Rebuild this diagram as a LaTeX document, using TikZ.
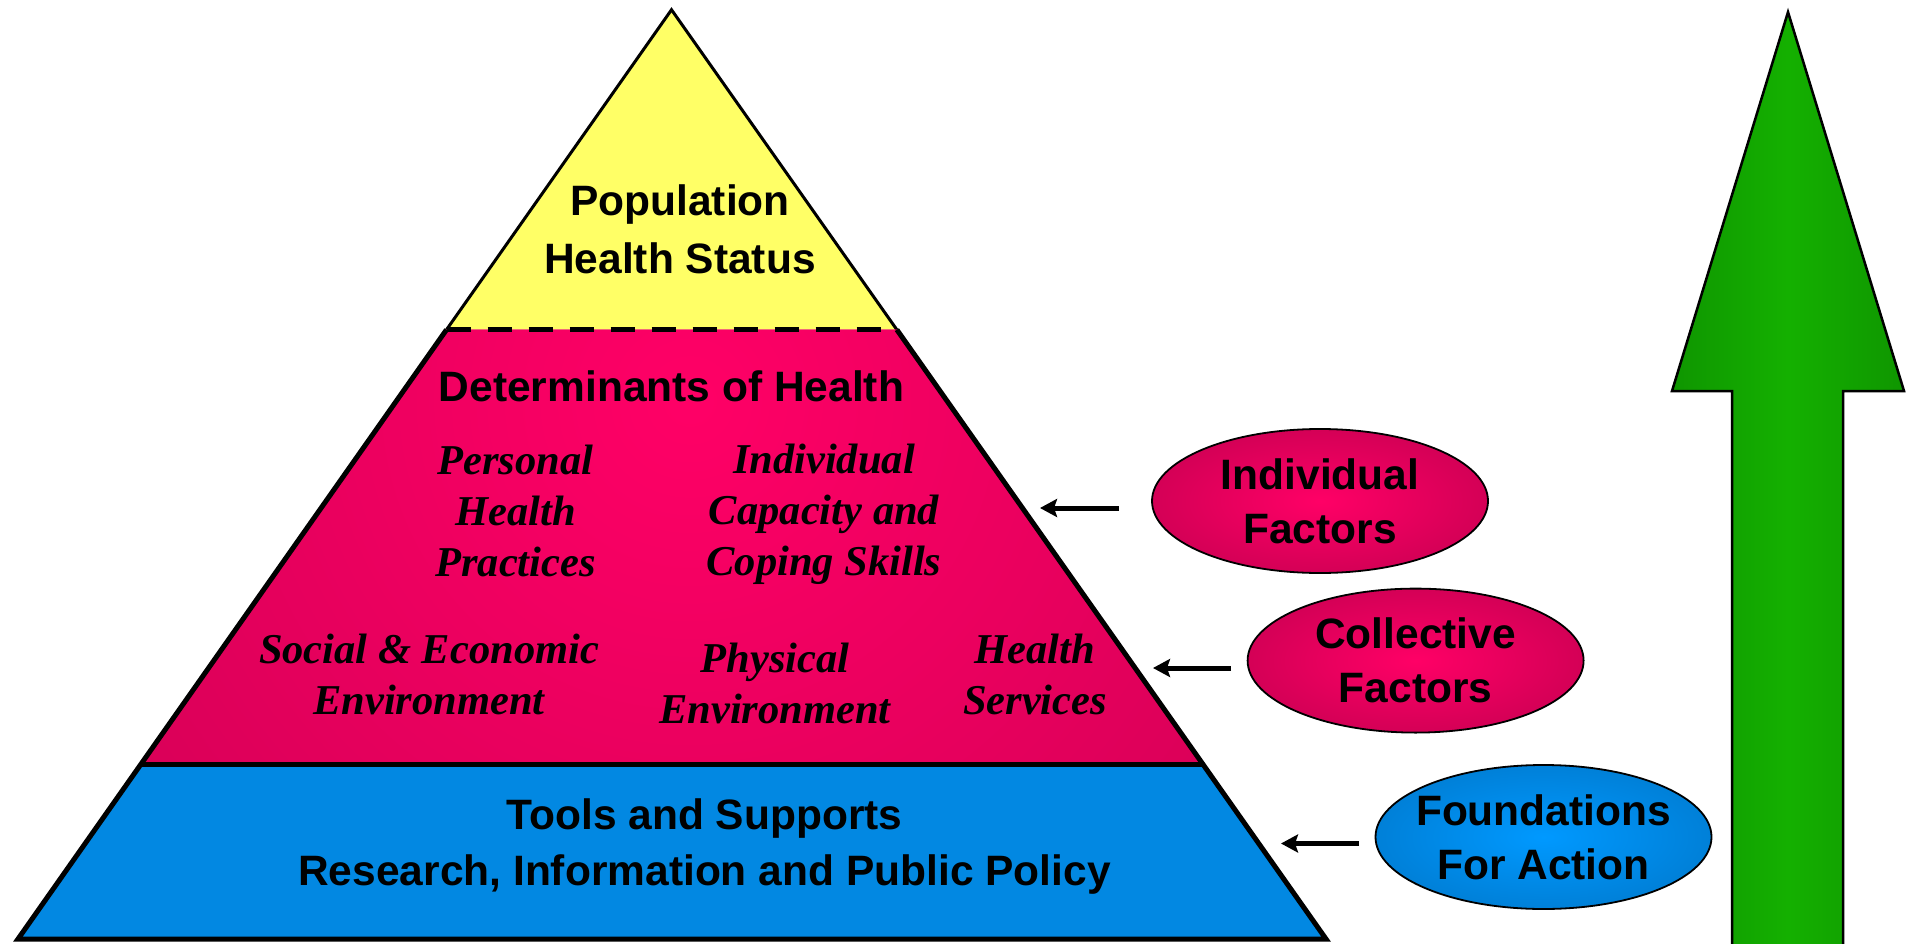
\documentclass[tikz,border=0pt]{standalone}
\usepackage{fontspec}
\setmainfont{Liberation Sans}
\newfontfamily\serifbi{Liberation Serif}
\usetikzlibrary{shapes.geometric,arrows.meta,calc}
\definecolor{ylw}{RGB}{255,255,102}
\definecolor{pinkin}{RGB}{255,0,102}
\definecolor{pinkout}{RGB}{212,0,86}
\definecolor{bluefill}{RGB}{2,136,226}
\definecolor{bluein}{RGB}{0,153,255}
\definecolor{blueout}{RGB}{0,128,216}
\definecolor{grnmid}{RGB}{20,176,0}
\definecolor{grnedge}{RGB}{15,150,0}
\begin{document}
\begin{tikzpicture}[x=1pt,y=-1pt,
  lbl/.style={font=\fontsize{42.5}{56}\selectfont\bfseries, align=center, inner sep=0pt},
  itl/.style={font=\fontsize{42.5}{51}\selectfont\serifbi\bfseries\itshape, align=center, inner sep=0pt},
  oval/.style={ellipse, draw=black, line width=1.8pt, minimum width=336pt, minimum height=144pt, inner xsep=-30pt, inner ysep=0pt, align=center, font=\fontsize{42.5}{54}\selectfont\bfseries},
  conn/.style={line width=5pt, -{Stealth[length=17pt,width=18pt,inset=3pt]}},
  thickedge/.style={line width=5pt, line join=miter},
  thinedge/.style={line width=3pt, line join=miter},
]
\useasboundingbox (0,0) rectangle (1911,944);
% pyramid corners
\coordinate (A) at (671.5,9.75);
\coordinate (BL) at (18,939);
\coordinate (BR) at (1326,939);
\coordinate (YL) at ($(A)!0.3443!(BL)$);
\coordinate (YR) at ($(A)!0.3443!(BR)$);
\coordinate (PL) at ($(A)!0.8119!(BL)$);
\coordinate (PR) at ($(A)!0.8119!(BR)$);
% yellow top
\fill[ylw] (YL) -- (A) -- (YR) -- cycle;
\draw[thinedge] (YL) -- (A) -- (YR);
% pink middle
\begin{scope}
  \clip (YL) -- (YR) -- (PR) -- (PL) -- cycle;
  \fill[pinkout] (0,0) rectangle (1400,944);
  \shade[inner color=pinkin, outer color=pinkout] (690,400) circle (760);
\end{scope}
% blue bottom
\fill[bluefill] (PL) -- (PR) -- (BR) -- (BL) -- cycle;
\draw[thickedge] (YL) -- (PL) -- (BL) -- (BR) -- (PR) -- (YR);
\draw[thickedge] (PL) -- (PR);
\draw[line width=5pt, dash pattern=on 24pt off 17pt] (YL) -- (YR);
% texts
\node[lbl, font=\fontsize{42.5}{58}\selectfont\bfseries] (pop) at (680,229) {Population\\Health Status};
\node[lbl] (det) at (671.5,386) {Determinants of Health};
\node[itl] (php) at (515.5,511) {Personal\\Health\\Practices};
\node[itl] (icc) at (824,514) {Individual\\Capacity and\\Coping Skills};
\node[itl] (see) at (429,674) {Social \& Economic\\Environment};
\node[itl] (phe) at (775,683) {Physical\\Environment};
\node[itl] (hs) at (1035,674) {Health\\Services};
\node[lbl] (tools) at (704.5,847) {Tools and Supports\\Research, Information and Public Policy};
% ellipses
\node[oval, inner color=pinkin, outer color=pinkout] (ind) at (1320,501) {Individual\\Factors};
\node[oval, inner color=pinkin, outer color=pinkout] (col) at (1415.6,660.6) {Collective\\Factors};
\node[oval, inner color=bluein, outer color=blueout] (fnd) at (1543.5,837) {Foundations\\For Action};
% connectors
\coordinate (s1) at (1119,508);
\coordinate (t1) at (1040,508);
\coordinate (s2) at (1231,668);
\coordinate (t2) at (1153,668);
\coordinate (s3) at (1359,843.5);
\coordinate (t3) at (1281,843.5);
\draw[conn] (s1) -- (t1);
\draw[conn] (s2) -- (t2);
\draw[conn] (s3) -- (t3);
% green arrow
\shadedraw[left color=grnedge, right color=grnedge, middle color=grnmid, draw=black, line width=2.5pt, line join=miter]
  (1732,960) -- (1732,391) -- (1672,391) -- (1788,12) -- (1904,391) -- (1843,391) -- (1843,960) -- cycle;
\end{tikzpicture}
\end{document}
